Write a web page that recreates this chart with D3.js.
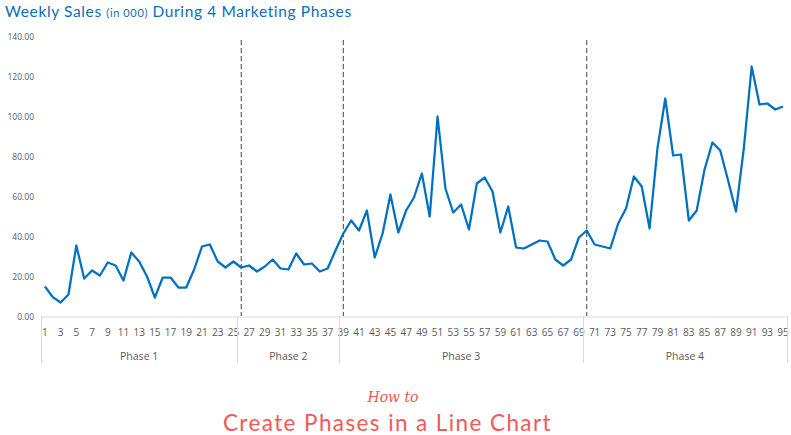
<!DOCTYPE html>
<html><head><meta charset="utf-8">
<script src="https://cdn.jsdelivr.net/npm/d3@7"></script>
<style>body{margin:0;background:#fff}svg{display:block}</style>
</head><body><svg id="c" width="791" height="435"></svg>
<script>
const weeks = d3.range(1, 96);
const sales = [15, 9.7, 7, 11, 35.5, 19, 23, 20.5, 27, 25.5,
  18, 32, 27.5, 20, 9.5, 19.5, 19.5, 14.5, 14.5, 23.5,
  35, 36, 27.5, 24.5, 27.5, 24.5, 25.5, 22.5, 25, 28.5,
  24, 23.5, 31.5, 26, 26.5, 22.5, 24, 33, 41.5, 48,
  43, 53, 29.5, 41.5, 61, 42, 53, 59.5, 71.5, 50,
  100, 64, 52, 56, 43.5, 66.5, 69.5, 62.5, 42, 55,
  34.5, 34, 36, 38, 37.5, 28.5, 25.5, 28.5, 39.5, 43,
  36, 35, 34, 46.5, 54, 70, 65, 44, 84, 109,
  80.5, 81, 48, 53, 73.5, 87, 83, 68, 52.5, 84,
  125, 106, 106.5, 103.5, 105];
const phaseNames = ["Phase 1", "Phase 2", "Phase 3", "Phase 4"];
const phaseStart = [1, 26, 39, 70];
const phaseEnd = [25, 38, 69, 95];
const yTicks = [0, 20, 40, 60, 80, 100, 120, 140];

const svg = d3.select("#c");
const x = d3.scaleBand().domain(weeks).range([41, 787]).padding(0);
const y = d3.scaleLinear().domain([0, 140]).range([316.5, 36.5]);
const grey = "#595959", axisC = "#D9D9D9";
const font = "'Open Sans', sans-serif";

function fitWidth(sel, target) {
  const n = sel.text().length;
  const w = sel.node().getComputedTextLength();
  sel.attr("letter-spacing", ((target - w) / n).toFixed(3));
}

// title
const t = svg.append("text").attr("x", 5).attr("y", 16.5)
  .attr("fill", "#0B6EB6").attr("font-family", "Lato, sans-serif").attr("font-size", 15.5);
t.append("tspan").text("Weekly Sales ");
t.append("tspan").attr("font-size", 11).text("(in 000)");
t.append("tspan").text(" During 4 Marketing Phases");
fitWidth(t, 347);

// y axis labels
const ya = svg.append("g").attr("transform", "translate(34,0)")
  .call(d3.axisLeft(y).tickValues(yTicks).tickFormat(d3.format(".2f")).tickSize(0).tickPadding(0));
ya.select(".domain").remove();
ya.selectAll("text").attr("fill", grey).attr("font-family", font).attr("font-size", 8.5);

// x axis
const xa = svg.append("g").attr("transform", "translate(0,316.5)")
  .call(d3.axisBottom(x).tickValues(weeks.filter(w => w % 2 === 1)).tickSize(0).tickPadding(12));
xa.select(".domain").attr("stroke", axisC);
xa.selectAll("text").attr("fill", grey).attr("font-family", font).attr("font-size", 10);

// phase separators & labels
const bounds = [x(phaseStart[0])].concat(phaseEnd.map(e => x(e) + x.bandwidth()));
svg.append("g").selectAll("line").data(bounds).join("line")
  .attr("x1", d => Math.round(d) + 0.5).attr("x2", d => Math.round(d) + 0.5)
  .attr("y1", 316.5).attr("y2", 363).attr("stroke", axisC);
svg.append("g").selectAll("text").data(phaseNames).join("text")
  .attr("x", (d, i) => (x(phaseStart[i]) + x(phaseEnd[i]) + x.bandwidth()) / 2)
  .attr("y", 359.5).attr("text-anchor", "middle")
  .attr("fill", grey).attr("font-family", font).attr("font-size", 10.5).text(d => d);

// dashed phase-start lines
svg.append("g").selectAll("line").data(phaseStart.slice(1)).join("line")
  .attr("x1", d => x(d) + x.bandwidth() / 2).attr("x2", d => x(d) + x.bandwidth() / 2)
  .attr("y1", 40).attr("y2", 316).attr("stroke", "#404040").attr("stroke-width", 1)
  .attr("stroke-dasharray", "5,3");

// line
svg.append("path").datum(sales)
  .attr("fill", "none").attr("stroke", "#0070C0").attr("stroke-width", 2.25)
  .attr("stroke-linejoin", "round")
  .attr("d", d3.line().x((d, i) => x(weeks[i]) + x.bandwidth() / 2).y(d => y(d)));

// footer
svg.append("text").attr("x", 393).attr("y", 402).attr("text-anchor", "middle")
  .attr("fill", "#F05555").attr("font-family", "'DejaVu Serif', serif").attr("font-style", "italic")
  .attr("font-size", 14).text("How to");
const f = svg.append("text").attr("x", 223).attr("y", 431)
  .attr("fill", "#F25858").attr("font-family", "Lato, sans-serif").attr("font-size", 22.5)
  .text("Create Phases in a Line Chart");
fitWidth(f, 329);
</script></body></html>
